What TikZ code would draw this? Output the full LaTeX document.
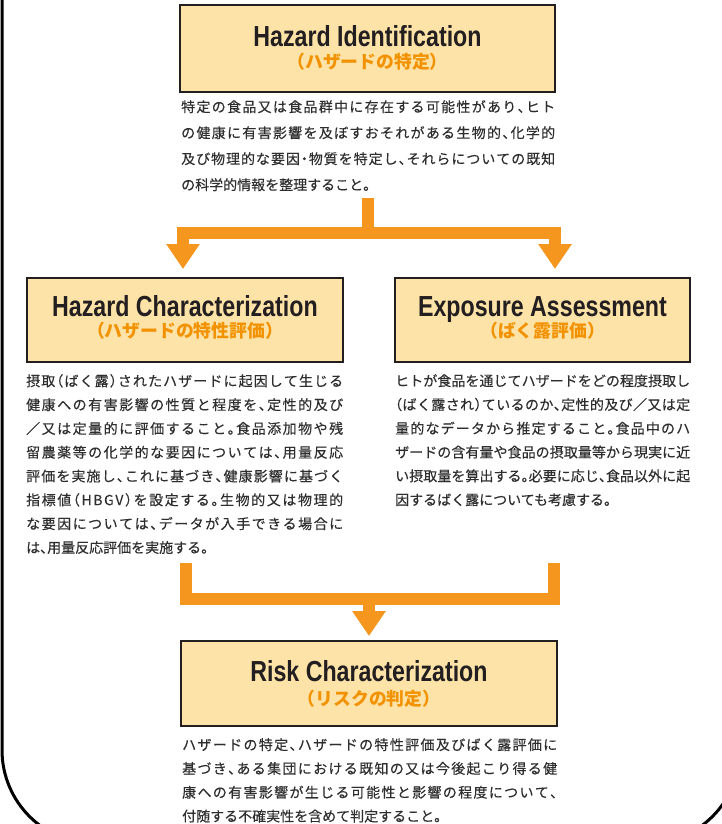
\documentclass[tikz,border=0pt]{standalone}
\usepackage{fontspec}
\usetikzlibrary{arrows.meta}
\newfontfamily\jpfont{Noto Sans CJK JP}
\newfontfamily\jpbody[RawFeature=+halt,FakeBold=0.3]{Noto Sans CJK JP}
\newfontfamily\enfont[FakeStretch=0.8]{Liberation Sans}
\definecolor{boxfill}{HTML}{FDE3A7}
\definecolor{boxline}{HTML}{231F20}
\definecolor{flowcol}{HTML}{F5961F}
\definecolor{subcol}{HTML}{F39200}
\definecolor{bodycol}{HTML}{2E2E2E}
\setlength{\parindent}{0pt}
\newcommand\jend{}
\newcommand\jsp[1]{\ifx#1\jend\else#1\hskip0pt plus1fill minus1pt\relax\expandafter\jsp\fi}
\newcommand\jl[1]{\leavevmode\hbox to\hsize{\jsp#1\jend\unskip}}

\begin{document}
\begin{tikzpicture}[x=1pt,y=-1pt,
  box/.style={draw=boxline,line width=2pt,fill=boxfill,inner sep=0pt},
  title/.style={font=\enfont\bfseries\fontsize{29}{29}\selectfont,text=boxline,anchor=base},
  sub/.style={font=\jpfont\bfseries\fontsize{17.8}{17.8}\selectfont,text=subcol,anchor=base},
  body/.style={font=\jpbody\fontsize{14}{23.8}\selectfont,text=bodycol,align=left,inner sep=0pt,anchor=north west},
  bar/.style={draw=flowcol,line width=12pt},
  flow/.style={bar,-{Triangle[width=32pt,length=25pt]}}]
  \useasboundingbox (0,0) rectangle (722,824);
  \begin{scope}
    \clip (0,0) rectangle (722,824);
    \draw[line width=3pt,rounded corners=94pt] (2,-200) rectangle (740,844);
  \end{scope}

  \node[box,minimum width=375pt,minimum height=87pt] (hi) at (367.5,48.5) {};
  \node[title] (hititle) at (367.5,47) {Hazard Identification};
  \node[sub] (hisub) at (367.5,69) {（ハザードの特定）};
  \node[body,text width=374pt,font=\jpbody\fontsize{14}{26}\selectfont] (hitext) at (181,100) {%
    \jl{特定の食品又は食品群中に存在する可能性があり、ヒト}\\
    \jl{の健康に有害影響を及ぼすおそれがある生物的、化学的}\\
    \jl{及び物理的な要因・物質を特定し、それらについての既知}\\
    の科学的情報を整理すること。};

  \node[box,minimum width=316pt,minimum height=84pt] (hc) at (185,320) {};
  \node[title] (hctitle) at (185,316) {Hazard Characterization};
  \node[sub] (hcsub) at (185,337.5) {（ハザードの特性評価）};
  \node[body,text width=317pt] (hctext) at (26,374) {%
    \jl{摂取（ばく露）されたハザードに起因して生じる}\\
    \jl{健康への有害影響の性質と程度を、定性的及び}\\
    \jl{／又は定量的に評価すること。食品添加物や残}\\
    \jl{留農薬等の化学的な要因については、用量反応}\\
    \jl{評価を実施し、これに基づき、健康影響に基づく}\\
    \jl{指標値（HBGV）を設定する。生物的又は物理的}\\
    \jl{な要因については、データが入手できる場合に}\\
    は、用量反応評価を実施する。};

  \node[box,minimum width=295pt,minimum height=84pt] (ea) at (542.5,320) {};
  \node[title] (eatitle) at (542.5,316) {Exposure Assessment};
  \node[sub] (easub) at (542.5,337.5) {（ばく露評価）};
  \node[body,text width=295pt] (eatext) at (395,374) {%
    \jl{ヒトが食品を通じてハザードをどの程度摂取し}\\
    \jl{（ばく露され）ているのか、定性的及び／又は定}\\
    \jl{量的なデータから推定すること。食品中のハ}\\
    \jl{ザードの含有量や食品の摂取量等から現実に近}\\
    \jl{い摂取量を算出する。必要に応じ、食品以外に起}\\
    因するばく露についても考慮する。};

  \node[box,minimum width=376pt,minimum height=85pt] (rc) at (369,683.5) {};
  \node[title] (rctitle) at (369,681) {Risk Characterization};
  \node[sub] (rcsub) at (369,705) {（リスクの判定）};
  \node[body,text width=375pt] (rctext) at (182,738) {%
    \jl{ハザードの特定、ハザードの特性評価及びばく露評価に}\\
    \jl{基づき、ある集団における既知の又は今後起こり得る健}\\
    \jl{康への有害影響が生じる可能性と影響の程度について、}\\
    付随する不確実性を含めて判定すること。};

  \coordinate (hiout) at (368,198);
  \coordinate (split) at (368,233);
  \draw[bar] (hiout) -- (split);
  \draw[flow] (split) -| ([xshift=-2pt,yshift=8pt]hc.north);
  \draw[flow] (split) -| ([xshift=12.5pt,yshift=8pt]ea.north);

  \coordinate (hcout) at (186,563);
  \coordinate (eaout) at (554,563);
  \coordinate (merge) at (369,599);
  \draw[bar] (hcout) |- (merge) -| (eaout);
  \draw[flow] (merge) -- ([yshift=4pt]rc.north);
\end{tikzpicture}
\end{document}
